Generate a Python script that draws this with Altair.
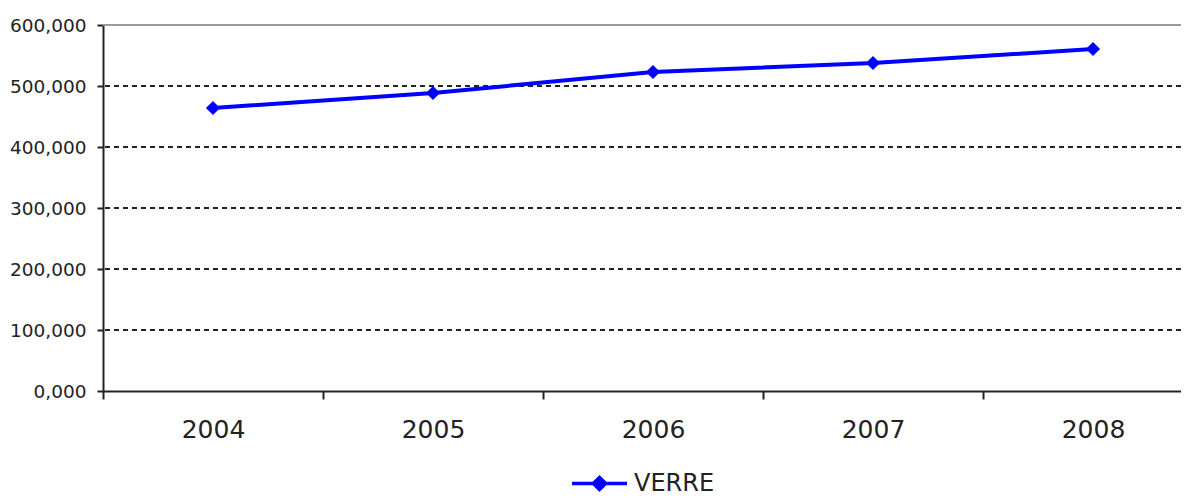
import altair as alt
import pandas as pd

years = [2004, 2005, 2006, 2007, 2008]
values = [464000, 488500, 523000, 537700, 560700]
series = ["VERRE"] * 5
dashed_grid = [100000, 200000, 300000, 400000, 500000]
top_line = [600000]
y_ticks = [0, 100000, 200000, 300000, 400000, 500000, 600000]
x_ticks = [2003.5, 2004.5, 2005.5, 2006.5, 2007.5]

df = pd.DataFrame({"year": years, "value": values, "series": series})
grid_df = pd.DataFrame({"v": dashed_grid})
top_df = pd.DataFrame({"v": top_line})

FONT = "DejaVu Sans"
yscale = alt.Scale(domain=[0, 600000], nice=False, zero=True)
xscale = alt.Scale(domain=[2003.5, 2008.4], nice=False, zero=False)

x_axis = alt.Axis(
    values=x_ticks,
    labelExpr="format(datum.value + 0.5, 'd')",
    labelOffset=110,
    tickSize=8,
    tickColor="#222222",
    tickWidth=2,
    domainColor="#222222",
    domainWidth=2,
    grid=False,
    title=None,
    labelFont=FONT,
    labelFontSize=25,
    labelColor="#222222",
    labelPadding=18,
    labelOverlap=False,
    labelFlush=False,
    labelBound=False,
)
y_axis = alt.Axis(
    values=y_ticks,
    labelExpr="format(datum.value / 1000, 'd') + ',000'",
    tickSize=6,
    tickColor="#222222",
    tickWidth=2,
    domainColor="#222222",
    domainWidth=2,
    grid=False,
    title=None,
    labelFont=FONT,
    labelFontSize=18.5,
    labelColor="#222222",
    labelPadding=11,
    labelOverlap=False,
    labelFlush=False,
    labelBound=False,
)

color = alt.Color(
    "series:N",
    scale=alt.Scale(range=["#0000FF"]),
    legend=alt.Legend(
        title=None,
        orient="none",
        legendX=467,
        legendY=429,
        symbolType="M-1,0L1,0M0,-0.22L0.22,0L0,0.22L-0.22,0Z",
        symbolSize=3025,
        symbolStrokeWidth=3.5,
        symbolFillColor="#0000FF",
        symbolStrokeColor="#0000FF",
        labelFont=FONT,
        labelFontSize=24,
        labelColor="#222222",
        labelOffset=5,
        padding=0,
    ),
)

base = alt.Chart(df).encode(
    x=alt.X("year:Q", scale=xscale, axis=x_axis),
    y=alt.Y("value:Q", scale=yscale, axis=y_axis),
    color=color,
)
line = base.mark_line(strokeWidth=4)
pts = base.mark_point(shape="diamond", filled=True, size=200, opacity=1)

grid = alt.Chart(grid_df).mark_rule(color="#222222", strokeWidth=2, strokeDash=[5, 4]).encode(
    y=alt.Y("v:Q", scale=yscale, axis=y_axis)
)
top = alt.Chart(top_df).mark_rule(color="#999999", strokeWidth=2).encode(
    y=alt.Y("v:Q", scale=yscale, axis=y_axis)
)

chart = alt.layer(grid, top, line, pts).properties(
    width=1078,
    height=366,
    autosize=alt.AutoSizeParams(type="none"),
    padding={"left": 95, "top": 17, "right": 0, "bottom": 106},
    background="white",
).configure_view(stroke=None)

chart.save("out.html", embed_options={"renderer": "svg", "actions": False})
